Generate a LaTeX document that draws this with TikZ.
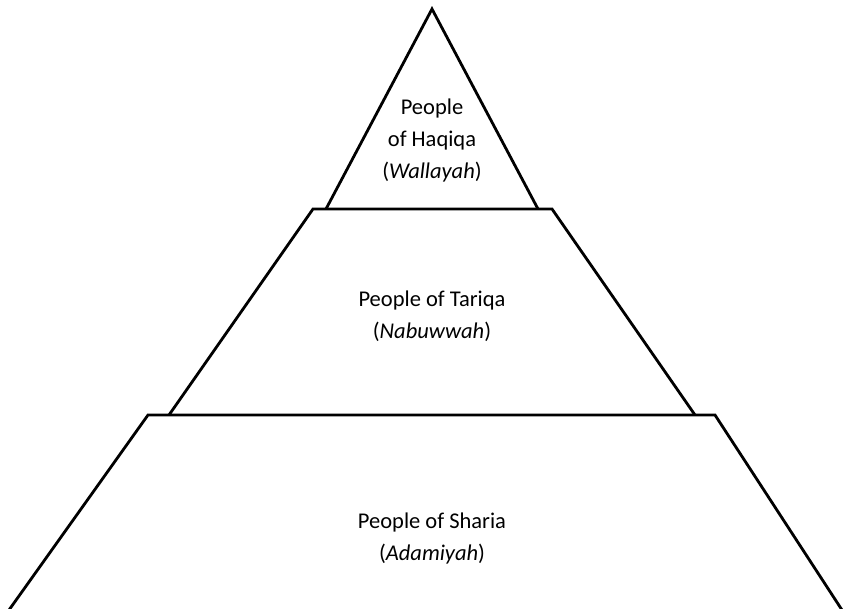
\documentclass[tikz,border=0pt]{standalone}
\usepackage{fontspec}
\setmainfont{Carlito}
\begin{document}
\begin{tikzpicture}[x=1pt,y=-1pt,
    tier/.style={draw=black,line width=2.8pt,line join=miter},
    label/.style={font=\fontsize{22.5}{32}\selectfont,align=center,text=black}]
        \useasboundingbox (0,0) rectangle (843,608);
        % top: haqiqa
        \coordinate (apex) at (432,9);
        \coordinate (hl) at (326,209);
        \coordinate (hr) at (538,209);
        \draw[tier] (hl) -- (apex) -- (hr);
        % middle: tariqa
        \coordinate (tl) at (313,209);
        \coordinate (tr) at (552,209);
        \coordinate (tbl) at (169,415);
        \coordinate (tbr) at (695,415);
        \draw[tier] (tbl) -- (tl) -- (tr) -- (tbr);
        % bottom: sharia
        \coordinate (sl) at (148,415);
        \coordinate (sr) at (715,415);
        \coordinate (sbl) at (9,610);
        \coordinate (sbr) at (842,610);
        \draw[tier] (sbl) -- (sl) -- (sr) -- (sbr);
        \node[label] (haqiqa) at (432,140) {People\\of Haqiqa\\(\textit{Wallayah})};
        \node[label] (tariqa) at (432,316) {People of Tariqa\\(\textit{Nabuwwah})};
        \node[label] (sharia) at (432,538) {People of Sharia\\(\textit{Adamiyah})};
    \end{tikzpicture}
\end{document}
